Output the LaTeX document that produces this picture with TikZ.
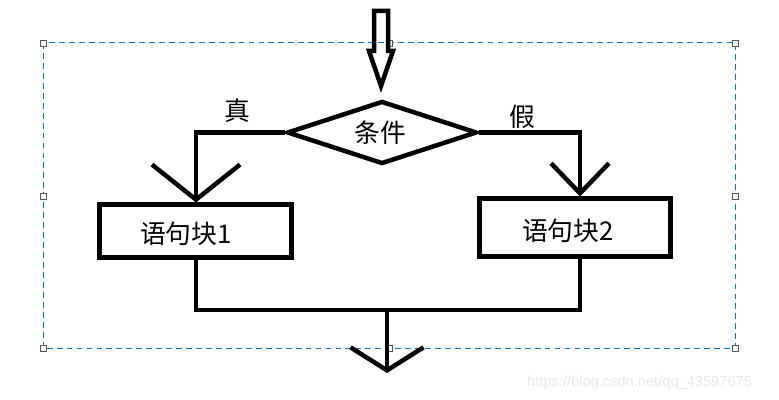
\documentclass[tikz,border=0pt]{standalone}
\usepackage{fontspec}
\newfontfamily\cjk{Noto Sans CJK SC}
\newfontfamily\wm{Liberation Sans}
\usetikzlibrary{shapes.geometric,arrows.meta}
\definecolor{selblue}{HTML}{0078D7}
\definecolor{handlegray}{HTML}{555555}
\definecolor{wmgray}{HTML}{E6E6E6}
\begin{document}
\begin{tikzpicture}[x=0.03cm,y=-0.03cm,
  conn/.style={line width=0.135cm, line join=miter},
  stmtbox/.style={draw, line width=0.15cm, minimum width=5.73cm, inner sep=0pt, font=\cjk\fontsize{22pt}{26pt}\selectfont},
  decision/.style={draw, diamond, line width=0.135cm, minimum width=5.7cm, minimum height=1.89cm, inner sep=0pt, font=\cjk\fontsize{22pt}{26pt}\selectfont},
  lbl/.style={font=\cjk\fontsize{22pt}{26pt}\selectfont, inner sep=0pt},
  handle/.style={draw=handlegray, fill=white, line width=0.6pt, minimum size=0.18cm, inner sep=0pt},
  sel/.style={draw=selblue, line width=0.85pt, dash pattern=on 5pt off 3.5pt}
]
\useasboundingbox (0,0) rectangle (779,400);
% selection frame
\draw[sel] (43,43) rectangle (735,348);
\foreach \n/\x/\y in {h1/43/43,h2/389/43,h3/735/43,h4/43/196,h5/735/196,h6/43/348,h7/389/348,h8/735/348}
  \node[handle] (\n) at (\x,\y) {};
% hollow entry arrow
\draw[line width=0.135cm, line join=miter] (374,11) -- (388,11) -- (388,51) -- (393,51) -- (381,86) -- (369,51) -- (374,51) -- cycle;
% nodes
\node[decision] (d) at (382,132.5) {};
\node[lbl] (dt) at (380,133) {条件};
\node[stmtbox, minimum height=1.56cm] (b1) at (195.5,231) {};
\node[lbl] (b1t) at (186,234) {语句块1};
\node[stmtbox, minimum height=1.71cm] (b2) at (574.5,227.5) {};
\node[lbl] (b2t) at (568,231) {语句块2};
\node[lbl] (t) at (237,111) {真};
\node[lbl] (f) at (522,117) {假};
% connectors
\coordinate (lc) at (196,132.5);
\coordinate (rc) at (580,132.5);
\draw[conn, -{Straight Barb[length=1.05cm, width=2.64cm, line width=0.135cm]}] (d.west) -- (lc) -- (lc |- b1.north);
\draw[conn, -{Straight Barb[length=0.9cm, width=1.74cm, line width=0.135cm]}] (d.east) -- (rc) -- (rc |- b2.north);
\coordinate (m1) at (196,310);
\coordinate (m2) at (580,310);
\coordinate (mo) at (387,310);
\coordinate (out) at (387,373);
\draw[conn] (b1.south -| m1) -- (m1) -- (m2) -- (b2.south -| m2);
\draw[conn, -{Straight Barb[length=0.69cm, width=2.19cm, line width=0.135cm]}] (mo) -- (out);
% watermark
\node[anchor=west, text=wmgray, font=\wm\fontsize{12.5pt}{14pt}\selectfont, inner sep=0pt] (wmk) at (527,383) {https://blog.csdn.net/qq\_43597675};
\end{tikzpicture}
\end{document}
